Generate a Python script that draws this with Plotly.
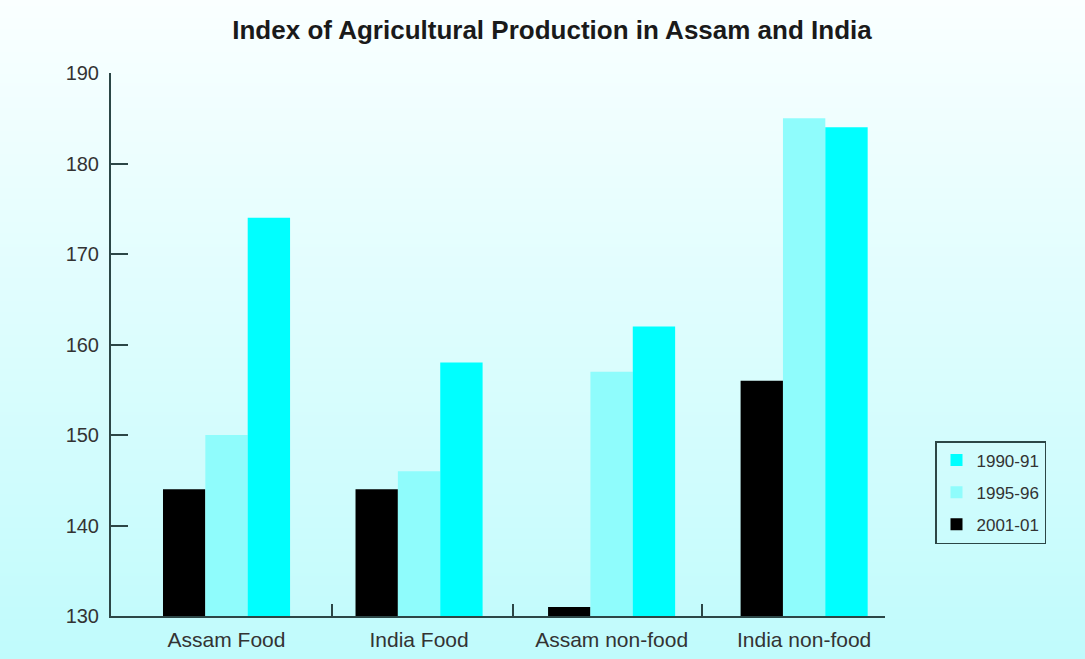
import base64
import struct
import zlib

import plotly.graph_objects as go

# ---- data ----
categories = ["Assam Food", "India Food", "Assam non-food", "India non-food"]
series_names = ["2001-01", "1995-96", "1990-91"]
values_2001 = [144, 144, 131, 156]
values_1995 = [150, 146, 157, 185]
values_1990 = [174, 158, 162, 184]
y_ticks = [130, 140, 150, 160, 170, 180, 190]
boundary_ticks = [0.55, 1.49, 2.47, 3.42]

colors = {"2001-01": "#000000", "1995-96": "#8ffcfc", "1990-91": "#00ffff"}
legend_rank = {"1990-91": 1, "1995-96": 2, "2001-01": 3}
axis_color = "#2c4646"
font_family = "Liberation Sans, Arial, sans-serif"

W, H = 1085, 659
ML, MR, MT, MB = 111, 200, 73, 43

TOP_C = (250, 255, 255)
BOT_C = (192, 251, 252)


def gradient_png(h, top, bottom):
    rows = b""
    for i in range(h):
        t = i / (h - 1)
        c = bytes(int(round(top[k] + (bottom[k] - top[k]) * t)) for k in range(3))
        rows += b"\x00" + c
    def chunk(tag, data):
        return struct.pack(">I", len(data)) + tag + data + struct.pack(">I", zlib.crc32(tag + data) & 0xFFFFFFFF)
    png = b"\x89PNG\r\n\x1a\n"
    png += chunk(b"IHDR", struct.pack(">IIBBBBB", 1, h, 8, 2, 0, 0, 0))
    png += chunk(b"IDAT", zlib.compress(rows, 9))
    png += chunk(b"IEND", b"")
    return "data:image/png;base64," + base64.b64encode(png).decode()


bg = gradient_png(H, TOP_C, BOT_C)

fig = go.Figure()
for name, vals in zip(series_names, [values_2001, values_1995, values_1990]):
    fig.add_trace(go.Bar(x=categories, y=vals, name=name, legendgroup=name,
                         legendrank=legend_rank[name],
                         marker=dict(color=colors[name], line=dict(width=0))))
# helper axis for group boundary ticks
fig.add_trace(go.Scatter(x=[], y=[], xaxis="x2", showlegend=False, hoverinfo="skip"))

pw = W - ML - MR
ph = H - MT - MB
fig.update_layout(
    width=W, height=H,
    margin=dict(l=ML, r=MR, t=MT, b=MB, autoexpand=False),
    paper_bgcolor="#e0fdfe",
    plot_bgcolor="rgba(0,0,0,0)",
    barmode="group", bargap=0.34, bargroupgap=0,
    font=dict(family=font_family, color="#333333"),
    title=dict(text="<b>Index of Agricultural Production in Assam and India</b>",
               x=552 / W, xanchor="center", y=1 - 30 / H, yanchor="middle",
               font=dict(size=26, color="#1a1a1a")),
    images=[dict(source=bg, xref="paper", yref="paper",
                 x=-ML / pw, y=1 + MT / ph, sizex=W / pw, sizey=H / ph,
                 xanchor="left", yanchor="top", sizing="stretch", layer="below")],
    legend=dict(traceorder="grouped", x=(935 - ML) / pw, y=(616 - 441) / ph,
                xanchor="left", yanchor="top", bgcolor="rgba(0,0,0,0)",
                bordercolor=axis_color, borderwidth=1.5, tracegroupgap=7,
                font=dict(size=17, color="#333333")),
    xaxis=dict(type="category", range=[-0.6, 3.42], showline=True, linecolor=axis_color,
               linewidth=2, ticks="", showgrid=False, zeroline=False, automargin=False,
               tickfont=dict(size=21, color="#333333"), ticklabelstandoff=4),
    xaxis2=dict(overlaying="x", anchor="y", side="bottom", range=[-0.6, 3.42],
                tickvals=boundary_ticks, ticks="inside", ticklen=12, tickwidth=2,
                tickcolor=axis_color, showticklabels=False, showgrid=False,
                zeroline=False, showline=False, automargin=False),
    yaxis=dict(range=[130, 190], tickvals=y_ticks, showline=True, linecolor=axis_color,
               linewidth=2, ticks="inside", ticklen=17, tickwidth=2, tickcolor=axis_color,
               showgrid=False, zeroline=False, automargin=False,
               tickfont=dict(size=20, color="#333333"), ticklabelstandoff=6),
)

fig.write_html(
    "out.html",
    config={"displayModeBar": False},
    post_script="document.body.style.margin='0';document.body.style.background='#c0fbfc';",
)
